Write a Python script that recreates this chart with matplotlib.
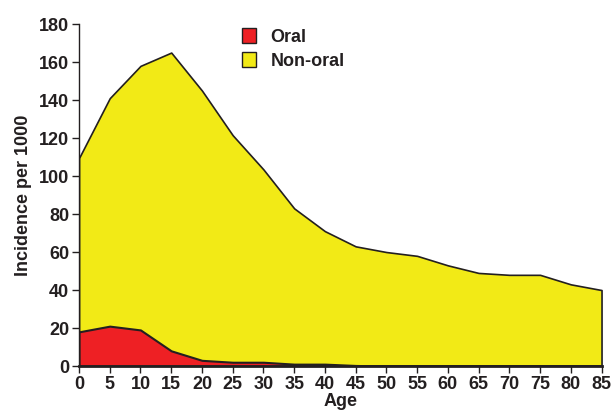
import matplotlib.pyplot as plt
from matplotlib.patches import Patch

plt.rcParams['font.family'] = ['Liberation Sans', 'DejaVu Sans']
plt.rcParams['font.weight'] = 'bold'

ages = [0, 5, 10, 15, 20, 25, 30, 35, 40, 45, 50, 55, 60, 65, 70, 75, 80, 85]
non_oral = [109.5, 141, 158, 165, 145, 121.5, 103.5, 83, 71, 63, 60, 58, 53, 49, 48, 48, 43, 40]
oral = [18, 21, 19, 8, 3, 2, 2, 1, 1, 0.3, 0, 0, 0, 0, 0, 0, 0, 0]

yellow = '#f2ea16'
red = '#ee2024'
ink = '#231f20'

fig = plt.figure(figsize=(6.14, 4.15), dpi=100)
ax = fig.add_axes([0.1287, 0.118, 0.851, 0.824])

ax.fill_between(ages, 0, non_oral, facecolor=yellow, edgecolor=ink, linewidth=1.2)
ax.fill_between(ages, 0, oral, facecolor=red, edgecolor=ink, linewidth=1.5)

ax.set_xlim(0, 85)
ax.set_ylim(0, 180)
ax.set_xticks(ages)
ax.set_yticks(range(0, 181, 20))

for s in ['top', 'right']:
    ax.spines[s].set_visible(False)
ax.spines['left'].set_color(ink)
ax.spines['bottom'].set_color(ink)
ax.spines['left'].set_linewidth(1.0)
ax.spines['bottom'].set_linewidth(2.0)
ax.tick_params(direction='out', length=5, width=1, colors=ink, labelsize=13, pad=2)

ax.set_xlabel('Age', fontsize=13, fontweight='bold', color=ink, labelpad=0)
ax.set_ylabel('Incidence per 1000', fontsize=13, fontweight='bold', color=ink, labelpad=5)

handles = [Patch(facecolor=red, edgecolor=ink, label='Oral'),
           Patch(facecolor=yellow, edgecolor=ink, label='Non-oral')]
ax.legend(handles=handles, loc='upper left', bbox_to_anchor=(0.28, 1.035), frameon=False,
          prop={'size': 13, 'weight': 'bold'}, handlelength=0.8, handleheight=0.9,
          handletextpad=0.8, labelspacing=0.35, labelcolor=ink)

fig.savefig('out.png', dpi=100)
